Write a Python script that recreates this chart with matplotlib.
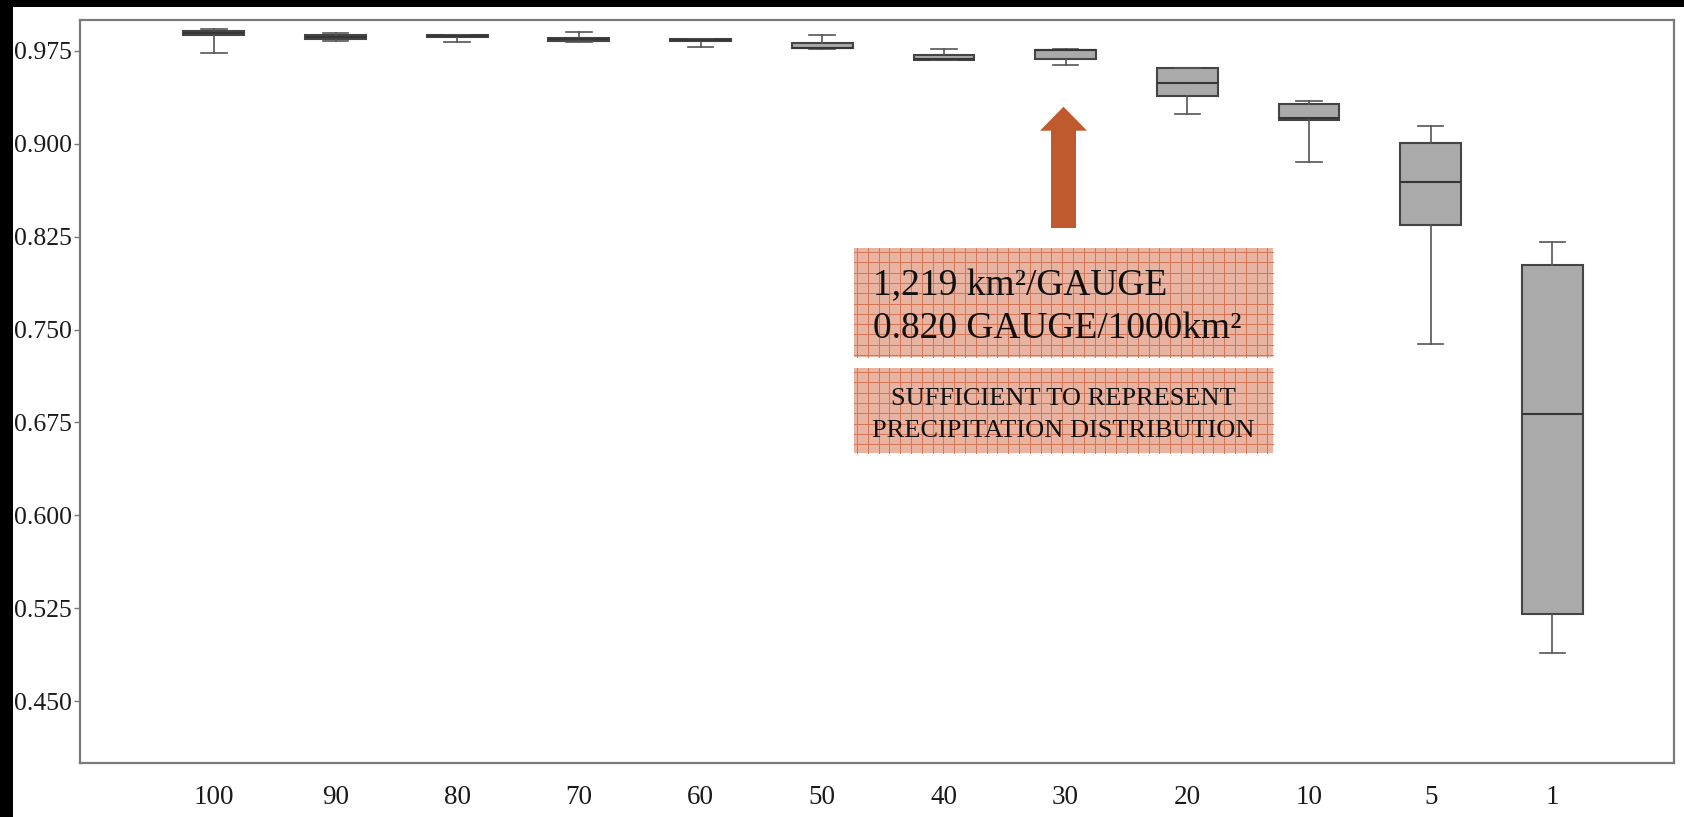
import numpy as np
import matplotlib
matplotlib.use("Agg")
import matplotlib.pyplot as plt
from matplotlib.transforms import Affine2D
from matplotlib.patches import Rectangle, FancyArrow
from matplotlib.lines import Line2D

# ---- data ----
labels = ['100', '90', '80', '70', '60', '50', '40', '30', '20', '10', '5', '1']
whis_hi = [0.9930, 0.9893, 0.9882, 0.9903, 0.9844, 0.9877, 0.9763, 0.9762, 0.9613, 0.9347, 0.9140, 0.8210]
q3 = [0.9911, 0.9877, 0.9882, 0.9857, 0.9844, 0.9817, 0.9718, 0.9758, 0.9610, 0.9325, 0.9006, 0.8020]
medians = [0.9898, 0.9863, 0.9872, 0.9844, 0.9838, 0.9777, 0.9688, 0.9755, 0.9490, 0.9212, 0.8688, 0.6815]
q1 = [0.9877, 0.9844, 0.9863, 0.9828, 0.9830, 0.9772, 0.9680, 0.9683, 0.9387, 0.9190, 0.8344, 0.5200]
whis_lo = [0.9736, 0.9830, 0.9820, 0.9825, 0.9785, 0.9765, 0.9675, 0.9640, 0.9244, 0.8855, 0.7385, 0.4885]
yticks = [0.450, 0.525, 0.600, 0.675, 0.750, 0.825, 0.900, 0.975]
note_main = ["1,219 km\u00b2/GAUGE", "0.820 GAUGE/1000km\u00b2"]
note_sub = ["SUFFICIENT TO REPRESENT", "PRECIPITATION DISTRIBUTION"]

W, H = 1684, 817
plt.rcParams['font.family'] = ['Liberation Serif', 'DejaVu Serif']
fig = plt.figure(figsize=(W / 100, H / 100), dpi=100, facecolor='white')

def fx(x):
    return x / W

def fy(y):
    return 1 - y / H

# pixel transform (image coords, y down)
T = Affine2D().scale(1 / W, -1 / H).translate(0, 1) + fig.transFigure

ax = fig.add_axes([fx(80), fy(763), fx(1674) - fx(80), fy(20) - fy(763)])

stats = []
for i in range(len(labels)):
    stats.append(dict(med=medians[i], q1=q1[i], q3=q3[i],
                      whislo=whis_lo[i], whishi=whis_hi[i], fliers=[], label=labels[i]))

edge = '#454545'
ax.bxp(stats, positions=np.arange(len(labels)), widths=0.5, capwidths=0.21,
       patch_artist=True, showfliers=False,
       boxprops=dict(facecolor='#aaaaaa', edgecolor=edge, linewidth=1.5),
       medianprops=dict(color='#363636', linewidth=1.5),
       whiskerprops=dict(color='#555555', linewidth=1.2),
       capprops=dict(color='#555555', linewidth=1.2))

ax.set_xlim(-1.1, 12.0)
ax.set_ylim(0.4, 1.0)
ax.set_yticks(yticks)
ax.set_yticklabels(['%.3f' % v for v in yticks])
ax.set_xticks(np.arange(len(labels)))
ax.set_xticklabels(labels)
ax.tick_params(axis='y', length=4, width=1.0, color='#777777', pad=2,
               labelsize=18.5, labelcolor='#1a1a1a')
ax.tick_params(axis='x', length=0, pad=16, labelsize=19.5, labelcolor='#1a1a1a')
for s in ax.spines.values():
    s.set_color('#7a7a7a')
    s.set_linewidth(1.6)

# black border bands (top and left)
fig.add_artist(Rectangle((0, 0), W, 7, transform=T, facecolor='black', edgecolor='none', zorder=10))
fig.add_artist(Rectangle((0, 0), 13, H, transform=T, facecolor='black', edgecolor='none', zorder=10))

# arrow
arrow = FancyArrow(1063.5, 228, 0, -121.3, width=25, head_width=47, head_length=24,
                   length_includes_head=True, transform=T, facecolor='#bf5a2e',
                   edgecolor='none', zorder=5)
fig.add_artist(arrow)

# patterned note boxes
face = '#e8b3a0'
gridc = '#d27554'

def note_box(x0, y0, x1, y1):
    fig.add_artist(Rectangle((x0, y0), x1 - x0, y1 - y0, transform=T,
                             facecolor=face, edgecolor='none', zorder=5))
    for gx in np.arange(x0 + 3, x1, 10.8):
        fig.add_artist(Line2D([gx, gx], [y0, y1], transform=T, color=gridc,
                              linewidth=0.7, zorder=6))
    for gy in np.arange(y0 + 4, y1, 10.3):
        fig.add_artist(Line2D([x0, x1], [gy, gy], transform=T, color=gridc,
                              linewidth=0.7, zorder=6))

note_box(854, 248, 1273, 357)
note_box(854, 368, 1273, 453)

fig.text(873, 295, note_main[0], transform=T, fontsize=27, ha='left', va='baseline',
         color='#111111', zorder=8)
fig.text(873, 338, note_main[1], transform=T, fontsize=27, ha='left', va='baseline',
         color='#111111', zorder=8)
fig.text(1063, 405, note_sub[0], transform=T, fontsize=19, ha='center', va='baseline',
         color='#111111', zorder=8)
fig.text(1063, 437, note_sub[1], transform=T, fontsize=19, ha='center', va='baseline',
         color='#111111', zorder=8)

fig.savefig('out.png', dpi=100, facecolor='white')
